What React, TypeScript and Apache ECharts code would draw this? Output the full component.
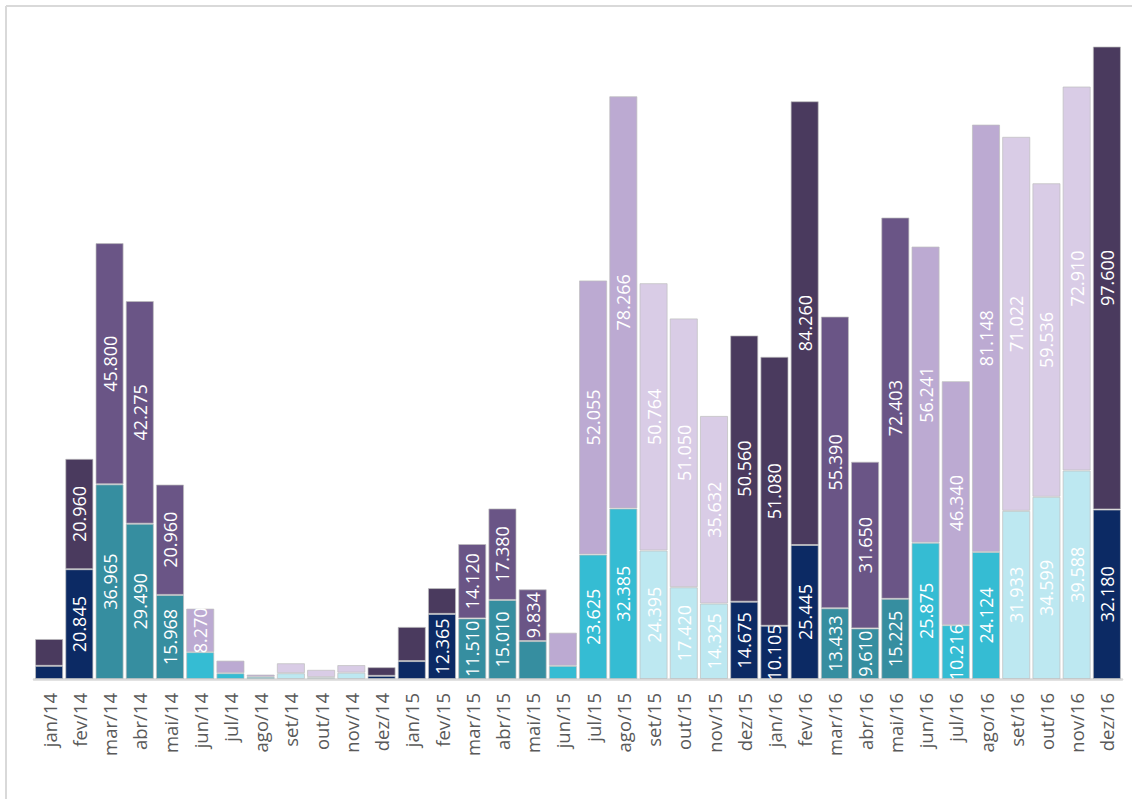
import React, { useEffect, useRef } from "react";
import * as echarts from "echarts";

// Months Jan/2014 – Dec/2016
const months = [
  "jan/14", "fev/14", "mar/14", "abr/14", "mai/14", "jun/14", "jul/14", "ago/14", "set/14", "out/14", "nov/14", "dez/14",
  "jan/15", "fev/15", "mar/15", "abr/15", "mai/15", "jun/15", "jul/15", "ago/15", "set/15", "out/15", "nov/15", "dez/15",
  "jan/16", "fev/16", "mar/16", "abr/16", "mai/16", "jun/16", "jul/16", "ago/16", "set/16", "out/16", "nov/16", "dez/16",
];

// Lower segment of each stacked bar
const lowerValues = [
  2500, 20845, 36965, 29490, 15968, 5100, 1100, 400, 1100, 350, 1200, 600,
  3400, 12365, 11510, 15010, 7200, 2500, 23625, 32385, 24395, 17420, 14325, 14675,
  10105, 25445, 13433, 9610, 15225, 25875, 10216, 24124, 31933, 34599, 39588, 32180,
];

// Upper segment of each stacked bar
const upperValues = [
  5100, 20960, 45800, 42275, 20960, 8270, 2400, 450, 1900, 1400, 1450, 1650,
  6500, 4900, 14120, 17380, 9834, 6300, 52055, 78266, 50764, 51050, 35632, 50560,
  51080, 84260, 55390, 31650, 72403, 56241, 46340, 81148, 71022, 59536, 72910, 97600,
];

// Season palettes: [lower, upper]
const summerColors = ["#0c2a64", "#4a3a5e"]; // dez, jan, fev
const autumnColors = ["#368ea0", "#6a5586"]; // mar, abr, mai
const winterColors = ["#35bcd3", "#bcaad2"]; // jun, jul, ago
const springColors = ["#bde8f1", "#d9cce6"]; // set, out, nov

const yMax = 120000;
const labelThreshold = 8000;

function seasonOf(i: number) {
  const m = i % 12;
  if (m === 11 || m <= 1) return summerColors;
  if (m <= 4) return autumnColors;
  if (m <= 7) return winterColors;
  return springColors;
}

function fmt(v: number) {
  const s = String(Math.round(v));
  return s.replace(/\B(?=(\d{3})+(?!\d))/g, ".");
}

export default function App() {
  const ref = useRef<HTMLDivElement>(null);

  useEffect(() => {
    if (!ref.current) return;
    const chart = echarts.init(ref.current, undefined, { renderer: "svg" });
    const font = "'Open Sans', 'Noto Sans', sans-serif";

    const mk = (vals: number[], layer: number) =>
      vals.map((v, i) => ({
        value: v,
        itemStyle: { color: seasonOf(i)[layer] },
      }));

    const labelCfg = {
      show: true,
      position: "inside" as const,
      rotate: 90,
      color: "#ffffff",
      fontSize: 18,
      fontFamily: font,
      formatter: (p: any) => (p.value >= labelThreshold ? fmt(p.value) : ""),
    };

    chart.setOption({
      animation: false,
      grid: { left: 34, right: 10, top: 47, bottom: 120, containLabel: false },
      xAxis: {
        type: "category",
        data: months,
        axisLine: { show: true, lineStyle: { color: "#d9d9d9", width: 2.5 } },
        axisTick: { show: false },
        axisLabel: {
          rotate: 90,
          color: "#595959",
          fontSize: 18.5,
          fontFamily: font,
          margin: 14,
          interval: 0,
        },
      },
      yAxis: {
        type: "value",
        min: 0,
        max: yMax,
        show: false,
        splitLine: { show: false },
      },
      series: [
        {
          type: "bar",
          stack: "total",
          barCategoryGap: "7%",
          data: mk(lowerValues, 0),
          itemStyle: { borderColor: "rgba(190,190,190,0.7)", borderWidth: 1 },
          label: labelCfg,
        },
        {
          type: "bar",
          stack: "total",
          barCategoryGap: "7%",
          data: mk(upperValues, 1),
          itemStyle: { borderColor: "rgba(190,190,190,0.7)", borderWidth: 1 },
          label: labelCfg,
        },
      ],
      graphic: [
        { type: "line", shape: { x1: 6, y1: 6, x2: 1132, y2: 6 }, style: { stroke: "#d9d9d9", lineWidth: 2 } },
        { type: "line", shape: { x1: 6, y1: 6, x2: 6, y2: 799 }, style: { stroke: "#d9d9d9", lineWidth: 2 } },
      ],
    });

    return () => chart.dispose();
  }, []);

  return (
    <div
      ref={ref}
      style={{ position: "fixed", left: 0, top: 0, width: 1132, height: 799, background: "#ffffff" }}
    />
  );
}
